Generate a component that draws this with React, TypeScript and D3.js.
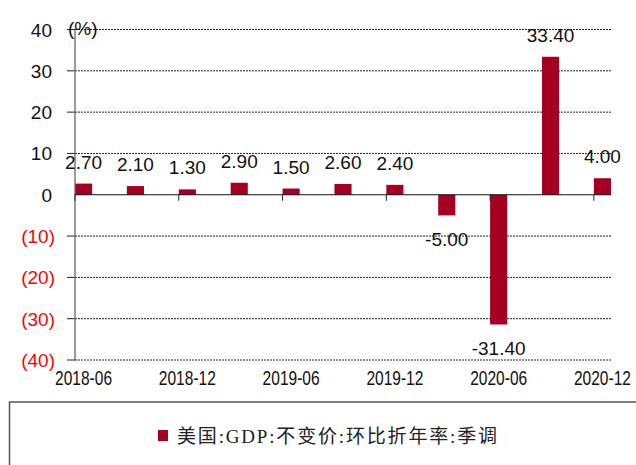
import React from 'react';
import * as d3 from 'd3';

// quarterly US real GDP, q/q annualized, SA
const quarters = ['2018-06', '2018-09', '2018-12', '2019-03', '2019-06', '2019-09', '2019-12', '2020-03', '2020-06', '2020-09', '2020-12'];
const gdpValues = [2.7, 2.1, 1.3, 2.9, 1.5, 2.6, 2.4, -5.0, -31.4, 33.4, 4.0];
const yTicks = [40, 30, 20, 10, 0, -10, -20, -30, -40];
const xLabels = ['2018-06', '2018-12', '2019-06', '2019-12', '2020-06', '2020-12'];
const seriesName = '美国:GDP:不变价:环比折年率:季调';
const unitLabel = '(%)';

const W = 636, H = 465;
const barColor = '#A50021';
const sans = '"Liberation Sans", Arial, sans-serif';

export default function App() {
  const x = d3.scaleBand<string>()
    .domain(quarters)
    .range([75, 611])
    .paddingInner(0.67)
    .paddingOuter(0);

  const y = d3.scaleLinear()
    .domain([-40, 40])
    .range([360, 29.5]);

  const fmtTick = (v: number) => (v < 0 ? '(' + Math.abs(v) + ')' : String(v));
  const bw = x.bandwidth();

  return (
    <svg width={W} height={H} style={{ position: 'absolute', left: 0, top: 0, background: '#fff' }}>
      {/* gridlines */}
      {yTicks.filter(t => t !== 0).map(t => (
        <g key={'g' + t}>
          <line x1={75} x2={611} y1={y(t)} y2={y(t)} stroke="#222" strokeWidth={1} strokeDasharray="2,1" />
          <line x1={67} x2={75} y1={y(t)} y2={y(t)} stroke="#222" strokeWidth={1} />
        </g>
      ))}

      {/* y tick labels */}
      {yTicks.map(t => (
        <text key={'t' + t} x={t < 0 ? 55 : 52} y={y(t) + 7} textAnchor="end"
          fontFamily={sans} fontSize={19} fill={t < 0 ? '#FF0000' : '#111'}>
          {fmtTick(t)}
        </text>
      ))}
      <text x={68} y={35} fontFamily={sans} fontSize={19} fill="#111">{unitLabel}</text>

      {/* bars */}
      {quarters.map((q, i) => {
        const v = gdpValues[i];
        return (
          <rect key={q} x={x(q)} y={Math.min(y(v), y(0))} width={bw}
            height={Math.abs(y(v) - y(0))} fill={barColor} />
        );
      })}

      {/* y axis + zero line */}
      <line x1={75} x2={75} y1={y(40)} y2={y(-40)} stroke="#666" strokeWidth={1.3} />
      <line x1={75} x2={611} y1={y(0)} y2={y(0)} stroke="#111" strokeWidth={1.2} />
      {xLabels.map(l => (
        <line key={'xt' + l} x1={x(l)!} x2={x(l)!} y1={y(0)} y2={y(0) + 6} stroke="#222" strokeWidth={1} />
      ))}

      {/* data labels */}
      {quarters.map((q, i) => {
        const v = gdpValues[i];
        const cx = x(q)! + bw / 2;
        const ly = v >= 0 ? y(v) - 15 : y(v) + 31;
        return (
          <text key={'l' + q} x={cx} y={ly} textAnchor="middle" fontFamily={sans} fontSize={19} fill="#111">
            {v.toFixed(2)}
          </text>
        );
      })}

      {/* x labels, condensed */}
      {xLabels.map(l => (
        <text key={'xl' + l} transform={`translate(${x(l)! + bw / 2},385) scale(0.74,1)`}
          textAnchor="middle" fontFamily={sans} fontSize={21} fill="#111">
          {l}
        </text>
      ))}

      {/* legend */}
      <rect x={9.5} y={402} width={640} height={80} fill="none" stroke="#555" strokeWidth={1.5} />
      <rect x={158} y={430} width={10} height={11} fill={barColor} />
      <text x={177} y={443} fontFamily='"Liberation Serif", "Noto Sans CJK SC", serif' fontSize={19}
        fill="#222" textLength={320} lengthAdjust="spacing">
        {seriesName}
      </text>
    </svg>
  );
}
